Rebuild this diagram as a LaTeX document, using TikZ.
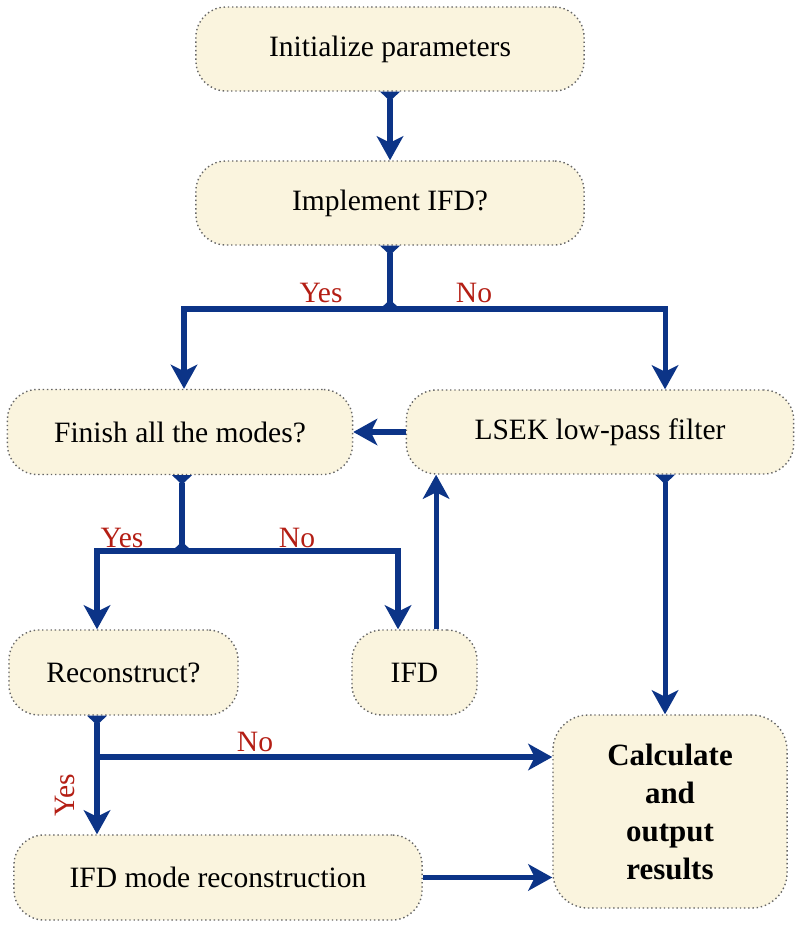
\documentclass[tikz,border=0pt]{standalone}
\usepackage{fontspec}
\setmainfont{Liberation Serif}
\usetikzlibrary{arrows.meta}
\definecolor{cream1}{RGB}{250,244,222}
\definecolor{blue1}{RGB}{12,52,135}
\definecolor{red1}{RGB}{180,30,20}
\tikzset{stub/.tip={Triangle[reversed,width=2.4mm,length=1.2mm]}}

\begin{document}
\begin{tikzpicture}[x=0.0125cm, y=-0.0125cm,
  >={Stealth[length=3mm,width=3.3mm,inset=0.8mm]},
  box/.style={rectangle, rounded corners=0.375cm, fill=cream1, draw=black!60, densely dotted,
    line width=0.5pt, inner sep=0pt, font=\fontsize{10.5}{13}\selectfont},
  flow/.style={draw=blue1, line width=1.8pt},
  ans/.style={text=red1, font=\fontsize{10.5}{13}\selectfont}]
  \useasboundingbox (0,0) rectangle (800,927);

  \node[box, minimum width=4.85cm, minimum height=1.05cm] (init) at (390,49) {Initialize parameters};
  \node[box, minimum width=4.85cm, minimum height=1.05cm] (impl) at (390,203) {Implement IFD?};
  \node[box, minimum width=4.3125cm, minimum height=1.0625cm] (finish) at (180,432) {Finish all the modes?};
  \node[box, minimum width=4.84cm, minimum height=1.05cm] (lsek) at (600,432) {LSEK low-pass filter};
  \node[box, minimum width=2.8625cm, minimum height=1.0625cm] (recon) at (123.5,672.5) {Reconstruct?};
  \node[box, minimum width=1.5625cm, minimum height=1.0625cm] (ifd) at (414.5,672.5) {IFD};
  \node[box, minimum width=5.1cm, minimum height=1.0625cm] (ifdrec) at (218,877.5) {IFD mode reconstruction};
  \node[box, rounded corners=0.44cm, minimum width=2.925cm, minimum height=2.4125cm, align=center,
    font=\fontsize{11}{13.5}\selectfont\bfseries] (calc) at (670,811.5) {Calculate\\and\\output\\results};

  \coordinate (j1) at (390,309);
  \coordinate (j2) at (182,551);
  \coordinate (j3) at (97,757);

  \draw[flow, stub->] (init) -- (impl);
  \foreach \from/\to in {impl/j1, finish/j2}
    \draw[flow, stub-stub] (\from.south -| \to) -- (\to);
  \draw[flow, ->] (j1) -| ([xshift=0.05cm]finish.north);
  \draw[flow, ->] (j1) -| ([xshift=0.8125cm]lsek.north);
  \draw[flow, ->] (lsek) -- (finish);
  \draw[flow, ->] (j2) -| (recon.north -| j3);
  \draw[flow, ->] (j2) -| ([xshift=-0.206cm]ifd.north);
  \draw[flow, ->] ([xshift=0.27cm]ifd.north) -- ([xshift=0.27cm]ifd.north |- lsek.south);
  \draw[flow, stub->] ([xshift=0.8125cm]lsek.south) -- ([xshift=0.8125cm]lsek.south |- calc.north);
  \draw[flow, stub-] (recon.south -| j3) -- (j3);
  \draw[flow, ->] (j3) -- (ifdrec.north -| j3);
  \draw[flow, ->] (j3) -- (j3 -| calc.west);
  \draw[flow, ->] (ifdrec.east) -- (ifdrec.east -| calc.west);

  \node[ans] (yes1) at (321,293) {Yes};
  \node[ans] (no1) at (474,293) {No};
  \node[ans] (yes2) at (122,538) {Yes};
  \node[ans] (no2) at (297,538) {No};
  \node[ans] (no3) at (255,742) {No};
  \node[ans, rotate=90] (yes3) at (65,795) {Yes};
\end{tikzpicture}
\end{document}
